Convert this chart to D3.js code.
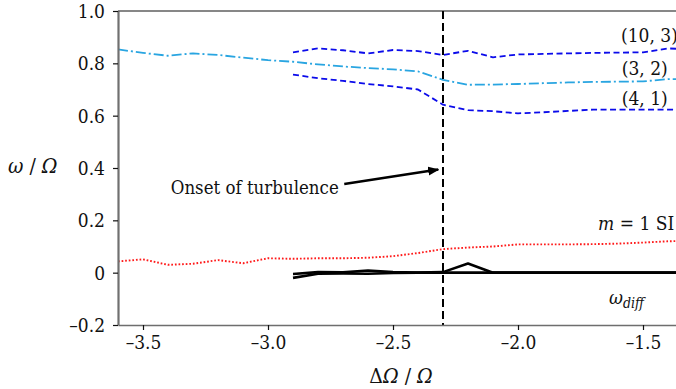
<!DOCTYPE html>
<html>
<head>
<meta charset="utf-8">
<script src="https://cdn.jsdelivr.net/npm/d3@7"></script>
<style>
  html, body { margin: 0; padding: 0; background: #fff; }
  svg { display: block; }
</style>
</head>
<body>
<svg id="chart" width="676" height="389"></svg>
<script>
// ΔΩ/Ω sample points
const xFull = [-3.6, -3.5, -3.4, -3.3, -3.2, -3.1, -3.0, -2.9, -2.8, -2.7, -2.6, -2.5,
               -2.4, -2.3, -2.2, -2.1, -2.0, -1.9, -1.8, -1.7, -1.6, -1.5, -1.4, -1.3];
const xShort = [-2.9, -2.8, -2.7, -2.6, -2.5, -2.4, -2.3, -2.2, -2.1, -2.0, -1.9, -1.8,
                -1.7, -1.6, -1.5, -1.4, -1.3];

// mode frequencies ω/Ω
const mode32 = [0.853, 0.840, 0.829, 0.838, 0.832, 0.822, 0.812, 0.806, 0.796, 0.788, 0.782, 0.777,
                0.769, 0.737, 0.718, 0.719, 0.721, 0.724, 0.727, 0.729, 0.730, 0.731, 0.740, 0.740];
const mode103 = [0.842, 0.857, 0.850, 0.838, 0.851, 0.847, 0.832, 0.848, 0.823, 0.834, 0.836, 0.838,
                 0.840, 0.841, 0.842, 0.857, 0.853];
const mode41 = [0.757, 0.743, 0.733, 0.721, 0.712, 0.700, 0.642, 0.621, 0.617, 0.609, 0.613, 0.618,
                0.623, 0.623, 0.623, 0.623, 0.623];
const modeSI = [0.043, 0.051, 0.030, 0.034, 0.048, 0.036, 0.055, 0.053, 0.055, 0.055, 0.057, 0.063,
                0.075, 0.090, 0.096, 0.100, 0.108, 0.108, 0.108, 0.109, 0.111, 0.115, 0.120, 0.122];
const diffA = [-0.005, 0.002, 0.001, 0.008, 0.002, 0.000, 0.002, 0.035, 0.000, 0.000, 0.000, 0.000,
               0.000, 0.000, 0.000, 0.000, 0.000];
const diffB = [-0.020, -0.004, -0.003, -0.004, -0.001, 0.000, 0.000, 0.000, 0.000, 0.000, 0.000, 0.000,
               0.000, 0.000, 0.000, 0.000, 0.000];

const onsetX = -2.3;

const xTicks = [-3.5, -3.0, -2.5, -2.0, -1.5];
const xTickLabels = ["–3.5", "–3.0", "–2.5", "–2.0", "–1.5"];
const yTicks = [1.0, 0.8, 0.6, 0.4, 0.2, 0, -0.2];
const yTickLabels = ["1.0", "0.8", "0.6", "0.4", "0.2", "0", "–0.2"];

const SERIF = "'DejaVu Serif Condensed', 'DejaVu Serif', serif";

const svg = d3.select("#chart");
const L = 118, R = 676, T = 11, B = 325;

const x = d3.scaleLinear().domain([-3.6, -1.368]).range([L, R]);
const y = d3.scaleLinear().domain([-0.2, 1.0]).range([B, T]);

const defs = svg.append("defs");
defs.append("clipPath").attr("id", "plot-clip")
  .append("rect").attr("x", L).attr("y", T - 2).attr("width", R - L).attr("height", B - T + 4);

const plot = svg.append("g").attr("clip-path", "url(#plot-clip)");

function drawSeries(xs, ys, style) {
  const line = d3.line().x((d, i) => x(xs[i])).y(d => y(d));
  plot.append("path")
    .datum(ys)
    .attr("d", line)
    .attr("fill", "none")
    .attr("stroke", style.color)
    .attr("stroke-width", style.width)
    .attr("stroke-dasharray", style.dash || null)
    .attr("stroke-linejoin", "round");
}

drawSeries(xFull, mode32, { color: "#29a5e1", width: 1.8, dash: "10,3,2,3" });
drawSeries(xShort, mode103, { color: "#0b0bea", width: 1.8, dash: "6,3.5" });
drawSeries(xShort, mode41, { color: "#0b0bea", width: 1.8, dash: "6,3.5" });
drawSeries(xFull, modeSI, { color: "#ff1a1a", width: 1.9, dash: "1.7,1.9" });
drawSeries(xShort, diffB, { color: "#000", width: 2.6 });
drawSeries(xShort, diffA, { color: "#000", width: 2.6 });

// onset of turbulence marker
svg.append("line")
  .attr("x1", x(onsetX)).attr("x2", x(onsetX))
  .attr("y1", y(1.0)).attr("y2", y(-0.2))
  .attr("stroke", "#000").attr("stroke-width", 2)
  .attr("stroke-dasharray", "8,4");

// axes
const xAxis = d3.axisBottom(x).tickValues(xTicks)
  .tickFormat((d, i) => xTickLabels[i]).tickSizeInner(5).tickSizeOuter(0).tickPadding(6);
const yAxis = d3.axisLeft(y).tickValues(yTicks)
  .tickFormat((d, i) => yTickLabels[i]).tickSizeInner(5).tickSizeOuter(0).tickPadding(8);

const gx = svg.append("g").attr("transform", `translate(0,${B})`).call(xAxis)
  .attr("font-family", SERIF).attr("font-size", 19);
gx.select(".domain").attr("stroke", "#6e6e6e").attr("stroke-width", 1.6);
gx.selectAll(".tick line").attr("stroke", "#111").attr("stroke-width", 1.2);
gx.selectAll(".tick text").attr("fill", "#111");

const gy = svg.append("g").attr("transform", `translate(${L},0)`).call(yAxis)
  .attr("font-family", SERIF).attr("font-size", 19);
gy.select(".domain").attr("stroke", "#707070").attr("stroke-width", 2.2);
gy.selectAll(".tick line").attr("stroke", "#111").attr("stroke-width", 1.2);
gy.selectAll(".tick text").attr("fill", "#111").attr("dy", "0.34em");

// top frame
svg.append("line").attr("x1", L).attr("x2", R).attr("y1", T).attr("y2", T)
  .attr("stroke", "#111").attr("stroke-width", 1.2);

function label(px, py, size) {
  return svg.append("text").attr("x", px).attr("y", py)
    .attr("font-family", SERIF).attr("font-size", size).attr("fill", "#111");
}

// axis titles
const yt = label(8, 173, 21);
yt.append("tspan").attr("font-style", "italic").text("ω");
yt.append("tspan").text(" / ");
yt.append("tspan").attr("font-style", "italic").text("Ω");

const xt = label(401, 383, 21).attr("text-anchor", "middle");
xt.append("tspan").text("Δ");
xt.append("tspan").attr("font-style", "italic").text("Ω");
xt.append("tspan").text(" / ");
xt.append("tspan").attr("font-style", "italic").text("Ω");

// curve labels
const labelSize = 19;
label(x(-1.588), y(0.880), labelSize).text("(10, 3)");
label(x(-1.585), y(0.757), labelSize).text("(3, 2)");
label(x(-1.585), y(0.642), labelSize).text("(4, 1)");

const si = label(x(-1.68), y(0.164), labelSize);
si.append("tspan").attr("font-style", "italic").text("m");
si.append("tspan").text(" = 1 SI");

const wd = label(x(-1.636), y(-0.118), labelSize);
wd.append("tspan").attr("font-style", "italic").text("ω");
wd.append("tspan").attr("font-style", "italic").attr("font-size", 14).attr("dy", 4).text("diff");

// annotation
label(x(-3.389), y(0.302), 18.5).text("Onset of turbulence");

defs.append("marker")
  .attr("id", "arrowhead").attr("viewBox", "0 0 10 10").attr("refX", 9).attr("refY", 5)
  .attr("markerWidth", 4.5).attr("markerHeight", 4.5).attr("orient", "auto")
  .attr("markerUnits", "strokeWidth")
  .append("path").attr("d", "M0,1 L10,5 L0,9 Z").attr("fill", "#000");

svg.append("line")
  .attr("x1", x(-2.695)).attr("y1", y(0.339))
  .attr("x2", x(-2.319)).attr("y2", y(0.394))
  .attr("stroke", "#000").attr("stroke-width", 2.5)
  .attr("marker-end", "url(#arrowhead)");
</script>
</body>
</html>
